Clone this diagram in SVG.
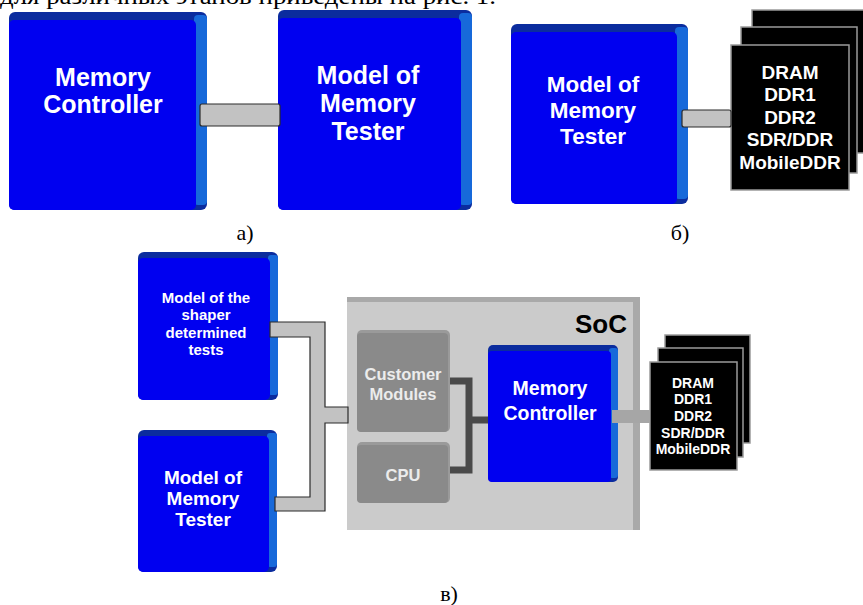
<svg xmlns="http://www.w3.org/2000/svg" width="863" height="605" viewBox="0 0 863 605">
  <style>
    .top { fill: #0b2c9e; }
    .side { fill: #1769da; }
    .front { fill: #0000f0; }
    .wt { fill: #ffffff; font-family: "Liberation Sans", Arial, sans-serif; font-weight: bold; text-anchor: middle; }
    .cap { fill: #000000; font-family: "Liberation Serif", "Times New Roman", serif; font-size: 22px; text-anchor: middle; }
    .bus { fill: #c2c2c2; stroke: #2a2a2a; stroke-width: 1.2; }
    .card { fill: #000000; stroke: #9a9a9a; stroke-width: 1.5; }
    .mod { fill: #8a8a8a; }
    .mt { fill: #ececec; font-family: "Liberation Sans", Arial, sans-serif; font-weight: bold; text-anchor: middle; font-size: 16.5px; }
    .dark { fill: none; stroke: #4a4a4a; stroke-width: 7; }
  </style>

  <!-- running text line above the figure -->
  <text x="0" y="4" font-family="Liberation Serif, Times New Roman, serif" font-size="24" textLength="496" lengthAdjust="spacingAndGlyphs">для различных этапов приведены на рис. 1.</text>

  <!-- a) -->
  <g id="a-memory-controller">
    <rect class="top" x="9" y="12" width="198" height="198" rx="6"/>
    <rect class="side" x="194" y="15" width="13" height="190" rx="4"/>
    <rect class="front" x="9" y="20" width="187" height="190" rx="5"/>
    <text class="wt" font-size="25" x="103" y="86">Memory</text>
    <text class="wt" font-size="25" x="103" y="113">Controller</text>
  </g>
  <g id="a-tester">
    <rect class="top" x="278" y="10" width="194" height="200" rx="6"/>
    <rect class="side" x="459" y="13" width="13" height="192" rx="4"/>
    <rect class="front" x="278" y="18" width="183" height="192" rx="5"/>
    <text class="wt" font-size="25" x="368" y="84">Model of</text>
    <text class="wt" font-size="25" x="368" y="112">Memory</text>
    <text class="wt" font-size="25" x="368" y="140">Tester</text>
  </g>

  <!-- б) -->
  <g id="b-tester">
    <rect class="top" x="511" y="24" width="177" height="180" rx="6"/>
    <rect class="side" x="675" y="27" width="13" height="172" rx="4"/>
    <rect class="front" x="511" y="32" width="166" height="172" rx="5"/>
    <text class="wt" font-size="22.5" x="593" y="92">Model of</text>
    <text class="wt" font-size="22.5" x="593" y="118">Memory</text>
    <text class="wt" font-size="22.5" x="593" y="144">Tester</text>
  </g>
  <g id="b-memories">
    <rect class="card" x="752" y="10" width="114" height="143"/>
    <rect class="card" x="741" y="27" width="116" height="146"/>
    <rect class="card" x="731" y="45" width="118" height="145"/>
    <text class="wt" font-size="19" x="790" y="79">DRAM</text>
    <text class="wt" font-size="19" x="790" y="101">DDR1</text>
    <text class="wt" font-size="19" x="790" y="124">DDR2</text>
    <text class="wt" font-size="19" x="790" y="146">SDR/DDR</text>
    <text class="wt" font-size="19" x="790" y="169">MobileDDR</text>
  </g>

  <!-- в) -->
  <g id="c-soc">
    <rect x="347" y="297" width="293" height="233" fill="#a9a9a9"/>
    <rect x="347" y="302" width="286" height="228" fill="#cbcbcb"/>
    <text x="627" y="333" font-family="Liberation Sans, Arial, sans-serif" font-weight="bold" font-size="26" text-anchor="end" fill="#000">SoC</text>
  </g>
  <g id="c-customer-modules">
    <rect x="357" y="330" width="93" height="102" rx="5" fill="#9a9a9a"/>
    <rect class="mod" x="357" y="333" width="91" height="99" rx="4"/>
    <text class="mt" x="403" y="380">Customer</text>
    <text class="mt" x="403" y="400">Modules</text>
  </g>
  <g id="c-cpu">
    <rect x="357" y="442" width="93" height="61" rx="5" fill="#9a9a9a"/>
    <rect class="mod" x="357" y="445" width="91" height="58" rx="4"/>
    <text class="mt" x="403" y="481">CPU</text>
  </g>
  <g id="c-memory-controller">
    <rect class="top" x="488" y="345" width="130" height="137" rx="5"/>
    <rect class="side" x="609" y="348" width="9" height="130" rx="3"/>
    <rect class="front" x="488" y="351" width="123" height="131" rx="4"/>
    <text class="wt" font-size="19.5" x="550" y="395">Memory</text>
    <text class="wt" font-size="19.5" x="550" y="420">Controller</text>
  </g>
  <g id="c-shaper-tests">
    <rect class="top" x="138" y="252" width="140" height="148" rx="6"/>
    <rect class="side" x="268" y="255" width="10" height="140" rx="3"/>
    <rect class="front" x="138" y="258" width="132" height="142" rx="5"/>
    <text class="wt" font-size="15" x="206" y="303">Model of the</text>
    <text class="wt" font-size="15" x="206" y="320">shaper</text>
    <text class="wt" font-size="15" x="206" y="338">determined</text>
    <text class="wt" font-size="15" x="206" y="355">tests</text>
  </g>
  <g id="c-tester">
    <rect class="top" x="138" y="430" width="139" height="142" rx="6"/>
    <rect class="side" x="267" y="433" width="10" height="134" rx="3"/>
    <rect class="front" x="138" y="436" width="131" height="136" rx="5"/>
    <text class="wt" font-size="19" x="203" y="484">Model of</text>
    <text class="wt" font-size="19" x="203" y="505">Memory</text>
    <text class="wt" font-size="19" x="203" y="526">Tester</text>
  </g>
  <g id="c-memories">
    <rect class="card" x="665" y="335" width="85" height="108"/>
    <rect class="card" x="658" y="348" width="85" height="109"/>
    <rect class="card" x="650" y="362" width="87" height="108"/>
    <text class="wt" font-size="14" x="693" y="388">DRAM</text>
    <text class="wt" font-size="14" x="693" y="404">DDR1</text>
    <text class="wt" font-size="14" x="693" y="421">DDR2</text>
    <text class="wt" font-size="14" x="693" y="438">SDR/DDR</text>
    <text class="wt" font-size="14" x="693" y="454">MobileDDR</text>
  </g>

  <!-- connectors -->
  <g id="connectors">
    <rect class="bus" x="200" y="104" width="80" height="22" rx="2"/>
    <rect class="bus" x="682" y="110" width="49" height="17" rx="2"/>
    <path class="bus" stroke="#8a8a8a" d="M270,322 H325 V407 H348 V423 H325 V511 H275 V497 H310 V337 H270 Z"/>
    <path class="dark" d="M450,381 H469 V470 H450 M469,420 H488"/>
    <rect x="612" y="410" width="38" height="13" fill="#a6a6a6"/>
  </g>

  <!-- sub-figure captions -->
  <text class="cap" x="245" y="240">а)</text>
  <text class="cap" x="680" y="240">б)</text>
  <text class="cap" x="449" y="601">в)</text>
</svg>
